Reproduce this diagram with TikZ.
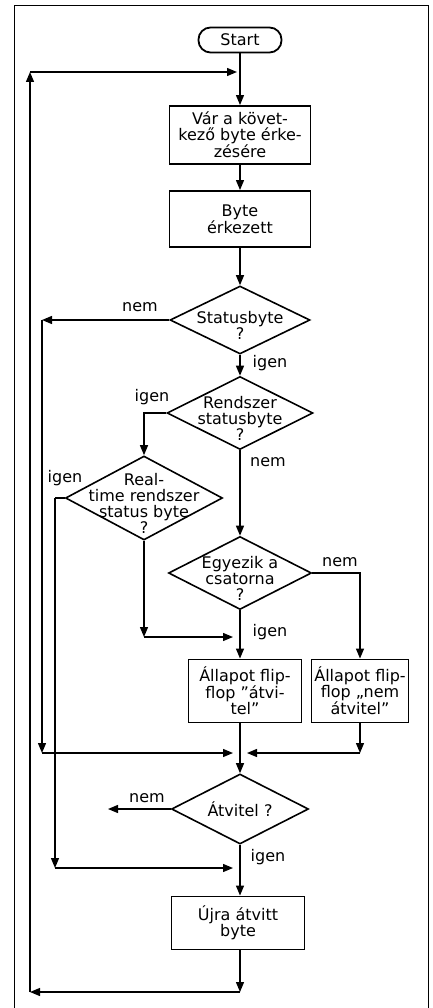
\documentclass[tikz,border=0pt]{standalone}
\usepackage{fontspec}
\setmainfont{DejaVu Sans}
\usetikzlibrary{arrows.meta, positioning, shapes.geometric}

\begin{document}
\begin{tikzpicture}[
  x=1pt, y=-1pt,
  font=\fontsize{16}{16}\selectfont,
  term/.style={draw, line width=1.8pt, rounded corners=12pt,
               minimum width=83pt, minimum height=25pt, inner sep=1pt},
  box/.style={draw, line width=1.9pt, minimum width=#1,
              inner xsep=1pt, align=center},
  dia/.style={draw, diamond, line width=1.6pt, inner sep=0pt},
  dtxt/.style={align=center, inner sep=0pt, yshift=-5pt},
  lbl/.style={inner sep=0pt},
  arr/.style={-{Triangle[length=10pt, width=8pt]}, line width=1.3pt}
]
\useasboundingbox (0,0) rectangle (432,1008);
% frame
\draw[line width=1pt] (14,1008) -- (14,6) -- (428,6) -- (428,1008);

% Main column
\node[term] (start) at (240,40) {Start};
\node[box=141pt, minimum height=58pt] (wait) at (240,135)
  {Vár a követ-\\kező byte érke-\\zésére};
\node[box=141pt, minimum height=56pt] (arrived) at (240,219) {Byte\\érkezett};
\node[dia, minimum width=140pt, minimum height=68pt,
      label={[dtxt]center:{Statusbyte\\?}}] (d1) at (240,320) {};
\node[dia, minimum width=146pt, minimum height=73pt,
      label={[dtxt]center:{Rendszer\\statusbyte\\?}}] (d2) at (240,413) {};
\node[dia, minimum width=157pt, minimum height=84pt,
      label={[dtxt]center:{Real-\\time rendszer\\status byte\\?}}] (d3) at (144,498) {};
\node[dia, minimum width=143pt, minimum height=73pt,
      label={[dtxt]center:{Egyezik a\\csatorna\\?}}] (d4) at (240,573) {};
\node[box=113pt, minimum height=63pt] (ff1) at (245,691)
  {Állapot flip-\\flop ”átvi-\\tel”};
\node[box=97pt, minimum height=63pt] (ff2) at (360,691)
  {Állapot flip-\\flop „nem\\átvitel”};
\node[dia, minimum width=137pt, minimum height=70pt,
      label={[dtxt, yshift=5pt]center:{Átvitel ?}}] (d5) at (240,809) {};
\node[box=133pt, minimum height=53pt] (resend) at (238,923) {Újra átvitt\\byte};

% Branch labels
\node[lbl] (nem1)  at (140,307) {nem};
\node[lbl] (igen1) at (270,363) {igen};
\node[lbl] (igen2) at (152,397) {igen};
\node[lbl] (nem2)  at (268,462) {nem};
\node[lbl] (igen3) at (65,478)  {igen};
\node[lbl] (nem3)  at (340,562) {nem};
\node[lbl] (igen4) at (270,632) {igen};
\node[lbl] (nem4)  at (147,798) {nem};
\node[lbl] (igen5) at (268,857) {igen};

% Helper points
\coordinate (topin) at (240,72);
\coordinate (tl) at (30,72);
\coordinate (bl) at (30,992);
\coordinate (br) at (240,992);
\coordinate (m1) at (240,637);
\coordinate (m2) at (240,753);
\coordinate (m3) at (240,868);
\coordinate (nl) at (42,320);
\coordinate (rl) at (55,498);
\coordinate (an) at (108,809);

% Arrows
\draw[arr] (start) -- (wait);
\draw[arr] (wait) -- (arrived);
\draw[arr] (arrived) -- (d1);
\draw[arr] (d1) -- (d2);
\draw[arr] (d2) -- (d4);
\draw[arr] (d4.south) -- (d4.south |- ff1.north);
\draw[arr] (d4.south |- ff1.south) -- (d5.north);
\draw[arr] (d5.south) -- (d5.south |- resend.north);

\draw[arr] (d1.west) -- (nl);
\draw[arr] (nl) -- (nl |- m2);
\draw[arr, shorten >=7pt] (nl |- m2) -- (m2);

\draw[arr] (d2.west) -| (d3.north);
\draw[line width=1.3pt] (d3.west) -- (rl);
\draw[arr] (rl) -- (rl |- m3);
\draw[arr, shorten >=7pt] (rl |- m3) -- (m3);

\draw[arr] (d3.south) -- (d3.south |- m1);
\draw[arr, shorten >=7pt] (d3.south |- m1) -- (m1);

\draw[arr] (d4.east) -| (ff2.north);
\draw[arr] (ff2.south) -- (ff2.south |- m2);
\draw[arr, shorten >=7pt] (ff2.south |- m2) -- (m2);

\draw[arr] (d5.west) -- (an);

\draw[arr] (br |- resend.south) -- (br);
\draw[arr] (br) -- (bl);
\draw[arr] (bl) -- (tl);
\draw[arr, shorten >=3pt] (tl) -- (topin);
\end{tikzpicture}
\end{document}
